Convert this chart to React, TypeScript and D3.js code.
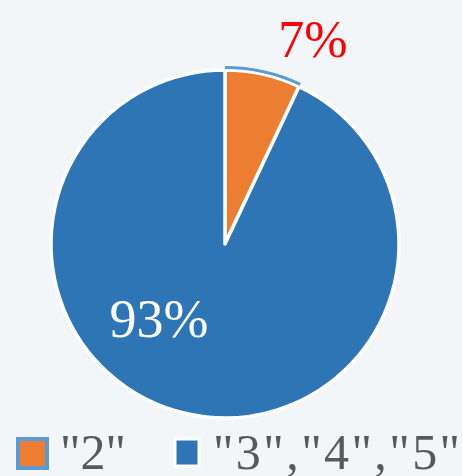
import React from "react";
import * as d3 from "d3";

const categories = ['"2"', '"3","4","5"'];
const values = [7, 93];
const labels = ["7%", "93%"];
const colors = ["#ed7d31", "#2e75b6"];

export default function App() {
  const W = 462, H = 476;
  const cx = 225, cy = 244, r = 174;
  const pie = d3.pie<number>().value((d) => d).sort(null)(values);
  const arc = d3.arc<d3.PieArcDatum<number>>().innerRadius(0).outerRadius(r);
  const outerArc = d3.arc<d3.PieArcDatum<number>>().innerRadius(r + 1).outerRadius(r + 4);
  return (
    <div style={{ position: "fixed", left: 0, top: 0 }}>
      <svg width={W} height={H} style={{ display: "block", background: "#f2f6f9" }}>
        <rect x={0} y={0} width={W} height={H} fill="#f2f6f9" />
        <g transform={`translate(${cx},${cy})`}>
          {pie.map((p, i) => (
            <path key={i} d={arc(p) || ""} fill={colors[i]} stroke="#ffffff" strokeWidth={3.5} strokeLinejoin="round" />
          ))}
          <path d={outerArc(pie[0]) || ""} fill="#5b9bd5" />
        </g>
        <text x={313} y={57} textAnchor="middle" fontFamily="Liberation Serif, serif" fontSize={52} fill="#ff0000">{labels[0]}</text>
        <text x={159} y={337} textAnchor="middle" fontFamily="Liberation Serif, serif" fontSize={54} fill="#ffffff">{labels[1]}</text>
        <g>
          <rect x={18} y={439} width={29} height={29} fill={colors[0]} stroke="#5b9bd5" strokeWidth={4} />
          <text x={60} y={469} fontFamily="Liberation Serif, serif" fontSize={50} fill="#595959">{categories[0]}</text>
          <rect x={175} y={439} width={24} height={27} fill={colors[1]} stroke="#ffffff" strokeWidth={3} />
          <text x={213} y={469} fontFamily="Liberation Serif, serif" fontSize={50} fill="#595959" textLength={247} lengthAdjust="spacing">{categories[1]}</text>
        </g>
      </svg>
    </div>
  );
}
